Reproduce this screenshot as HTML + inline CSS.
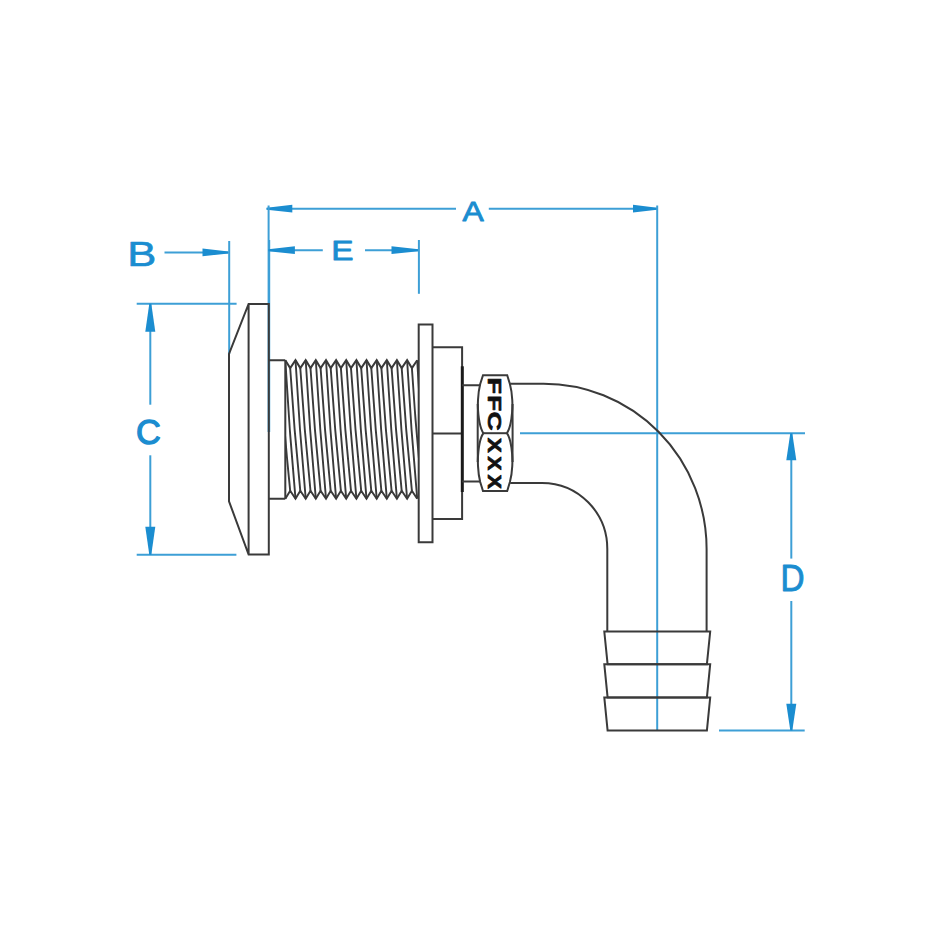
<!DOCTYPE html>
<html><head><meta charset="utf-8"><style>
html,body{margin:0;padding:0;background:#fff;}
svg{display:block;}
</style></head><body>
<svg width="940" height="940" viewBox="0 0 940 940">
<rect width="940" height="940" fill="#fff"/>
<g id="blue">
<line x1="266.4" y1="208.7" x2="456" y2="208.7" stroke="#3d9fd6" stroke-width="2.0"/>
<line x1="488.8" y1="208.7" x2="657" y2="208.7" stroke="#3d9fd6" stroke-width="2.0"/>
<path d="M266.8 207.7 L292.3 204.8 L292.3 212.6 L266.8 209.7 Z" fill="#1b8dd0"/>
<path d="M657 209.7 L633 212.6 L633 204.8 L657 207.7 Z" fill="#1b8dd0"/>
<line x1="268.6" y1="205.5" x2="268.6" y2="432" stroke="#3d9fd6" stroke-width="2.0"/>
<line x1="269.6" y1="240" x2="269.6" y2="432" stroke="#3d9fd6" stroke-width="1.2"/>
<line x1="657.2" y1="205.5" x2="657.2" y2="730.6" stroke="#3d9fd6" stroke-width="2.0"/>
<line x1="268.4" y1="250.2" x2="322.8" y2="250.2" stroke="#3d9fd6" stroke-width="2.0"/>
<line x1="365" y1="250.2" x2="418.5" y2="250.2" stroke="#3d9fd6" stroke-width="2.0"/>
<path d="M268.4 249.2 L294.9 246.3 L294.9 254.1 L268.4 251.2 Z" fill="#1b8dd0"/>
<path d="M418.5 251.2 L391.5 254.1 L391.5 246.3 L418.5 249.2 Z" fill="#1b8dd0"/>
<line x1="418.9" y1="240" x2="418.9" y2="293.8" stroke="#3d9fd6" stroke-width="2.0"/>
<line x1="164.5" y1="252.4" x2="228.5" y2="252.4" stroke="#3d9fd6" stroke-width="2.0"/>
<path d="M228.5 253.4 L202.5 256.3 L202.5 248.5 L228.5 251.4 Z" fill="#1b8dd0"/>
<line x1="229.2" y1="241" x2="229.2" y2="354" stroke="#3d9fd6" stroke-width="2.0"/>
<line x1="136.7" y1="303.7" x2="236.6" y2="303.7" stroke="#3d9fd6" stroke-width="2.0"/>
<line x1="136.7" y1="554.7" x2="236.4" y2="554.7" stroke="#3d9fd6" stroke-width="2.0"/>
<line x1="150.3" y1="303.7" x2="150.3" y2="404.7" stroke="#3d9fd6" stroke-width="2.0"/>
<line x1="150.3" y1="455.3" x2="150.3" y2="554.7" stroke="#3d9fd6" stroke-width="2.0"/>
<path d="M151.3 303.7 L155.3 331.7 L145.3 331.7 L149.3 303.7 Z" fill="#1b8dd0"/>
<path d="M149.3 554.7 L145.3 526.7 L155.3 526.7 L151.3 554.7 Z" fill="#1b8dd0"/>
<line x1="520" y1="433.3" x2="805" y2="433.3" stroke="#3d9fd6" stroke-width="2.0"/>
<line x1="719" y1="730.6" x2="804.7" y2="730.6" stroke="#3d9fd6" stroke-width="2.0"/>
<line x1="791.3" y1="433.3" x2="791.3" y2="558.6" stroke="#3d9fd6" stroke-width="2.0"/>
<line x1="791.3" y1="601" x2="791.3" y2="730.6" stroke="#3d9fd6" stroke-width="2.0"/>
<path d="M792.3 433.3 L796.3 460.3 L786.3 460.3 L790.3 433.3 Z" fill="#1b8dd0"/>
<path d="M790.3 730.6 L786.3 703.8 L796.3 703.8 L792.3 730.6 Z" fill="#1b8dd0"/>
</g>
<g id="black">
<path d="M248.6 304 L268.8 304 L268.8 554.5 L248.6 554.5 L229 501.3 L229 354 Z M248.6 304 L248.6 554.5" stroke="#3a3a3a" stroke-width="2.0" fill="none" stroke-linejoin="miter"/>
<path d="M268.8 360.2 L285.3 360.2 M268.8 498.7 L285.3 498.7 M285.3 360.2 L285.3 498.7" stroke="#3a3a3a" stroke-width="2.0" fill="none" stroke-linejoin="miter"/>
<path d="M285.3 360.2 L290.2 368.1 L295.5 360.2 L300.3 368.1 L305.7 360.2 L310.5 368.1 L315.8 360.2 L320.6 368.1 L326 360.2 L330.7 368.1 L336.1 360.2 L340.9 368.1 L346.2 360.2 L351 368.1 L356.4 360.2 L361.2 368.1 L366.5 360.2 L371.3 368.1 L376.7 360.2 L381.4 368.1 L386.8 360.2 L391.6 368.1 L396.9 360.2 L401.7 368.1 L407.1 360.2 L411.9 368.1 L417.2 360.2" stroke="#3a3a3a" stroke-width="2.0" fill="none" stroke-linejoin="miter"/>
<path d="M285.3 498.7 L290.2 490.8 L295.5 498.7 L300.3 490.8 L305.7 498.7 L310.5 490.8 L315.8 498.7 L320.6 490.8 L326 498.7 L330.7 490.8 L336.1 498.7 L340.9 490.8 L346.2 498.7 L351 490.8 L356.4 498.7 L361.2 490.8 L366.5 498.7 L371.3 490.8 L376.7 498.7 L381.4 490.8 L386.8 498.7 L391.6 490.8 L396.9 498.7 L401.7 490.8 L407.1 498.7 L411.9 490.8 L417.2 498.7" stroke="#3a3a3a" stroke-width="2.0" fill="none" stroke-linejoin="miter"/>
<clipPath id="thr"><rect x="285.3" y="358.2" width="133.39999999999998" height="142.5"/></clipPath>
<g clip-path="url(#thr)">
<path d="M275.2 360.2 Q279 429.4 285.3 498.7 M280 368.1 Q283.9 429.4 290.2 490.8 M285.3 360.2 Q289.2 429.4 295.5 498.7 M290.2 368.1 Q294 429.4 300.3 490.8 M295.5 360.2 Q299.4 429.4 305.7 498.7 M300.3 368.1 Q304.2 429.4 310.5 490.8 M305.7 360.2 Q309.5 429.4 315.8 498.7 M310.5 368.1 Q314.3 429.4 320.6 490.8 M315.8 360.2 Q319.7 429.4 326 498.7 M320.6 368.1 Q324.4 429.4 330.7 490.8 M326 360.2 Q329.8 429.4 336.1 498.7 M330.7 368.1 Q334.6 429.4 340.9 490.8 M336.1 360.2 Q340 429.4 346.2 498.7 M340.9 368.1 Q344.7 429.4 351 490.8 M346.2 360.2 Q350.1 429.4 356.4 498.7 M351 368.1 Q354.9 429.4 361.2 490.8 M356.4 360.2 Q360.2 429.4 366.5 498.7 M361.2 368.1 Q365 429.4 371.3 490.8 M366.5 360.2 Q370.4 429.4 376.7 498.7 M371.3 368.1 Q375.1 429.4 381.4 490.8 M376.7 360.2 Q380.5 429.4 386.8 498.7 M381.4 368.1 Q385.3 429.4 391.6 490.8 M386.8 360.2 Q390.7 429.4 396.9 498.7 M391.6 368.1 Q395.4 429.4 401.7 490.8 M396.9 360.2 Q400.8 429.4 407.1 498.7 M401.7 368.1 Q405.6 429.4 411.9 490.8 M407.1 360.2 Q410.9 429.4 417.2 498.7 M411.9 368.1 Q415.7 429.4 422 490.8 M417.2 360.2 Q421.1 429.4 427.4 498.7" stroke="#3a3a3a" stroke-width="1.9" fill="none" stroke-linejoin="miter"/>
</g>
<path d="M418.7 324.5 L432.5 324.5 L432.5 542.3 L418.7 542.3 Z" stroke="#3a3a3a" stroke-width="2.0" fill="none" stroke-linejoin="miter"/>
<path d="M432.5 347.3 L462.1 347.3 L462.1 518.9 L432.5 518.9 M432.5 433.4 L462.1 433.4" stroke="#3a3a3a" stroke-width="2.0" fill="none" stroke-linejoin="miter"/>
<path d="M462.3 366.3 L462.3 492" stroke="#1a1a1a" stroke-width="3.0" fill="none" stroke-linejoin="miter"/>
<path d="M462.1 385.3 L480.2 385.3 M462.1 481.6 L480.2 481.6" stroke="#3a3a3a" stroke-width="2.0" fill="none" stroke-linejoin="miter"/>
<path d="M483 375.2 L507.2 375.2 L509.9 384 C512.6 394 512.6 400 512.6 433 C512.6 466 512.6 472 509.9 482 L507.2 491 L483 491 L480.2 482 C477.7 472 477.7 466 477.7 433 C477.7 400 477.7 394 480.2 384 Z" stroke="#3a3a3a" stroke-width="2.0" fill="none" stroke-linejoin="miter"/>
<path d="M483.4 433.2 L506.9 433.2" stroke="#3a3a3a" stroke-width="2.0" fill="none" stroke-linejoin="miter"/>
<path d="M477.7 404 Q478.5 426 483.4 433.2 Q478.5 440 477.7 462" stroke="#3a3a3a" stroke-width="2.0" fill="none" stroke-linejoin="miter"/>
<path d="M512.6 404 Q511.8 426 506.9 433.2 Q511.8 440 512.6 462" stroke="#3a3a3a" stroke-width="2.0" fill="none" stroke-linejoin="miter"/>
<path d="M510.2 383.7 L543.4 383.7 A163 165.3 0 0 1 706.6 549 L706.6 631.6" stroke="#3a3a3a" stroke-width="2.0" fill="none" stroke-linejoin="miter"/>
<path d="M510.2 482.9 L542 482.9 A65.3 66 0 0 1 607.3 549 L607.3 631.6" stroke="#3a3a3a" stroke-width="2.0" fill="none" stroke-linejoin="miter"/>
<path d="M604.3 631.6 L710.2 631.6 L706.9 664.2 L607.6 664.2 Z" stroke="#3a3a3a" stroke-width="2.0" fill="none" stroke-linejoin="miter"/>
<path d="M604.3 664.2 L710.2 664.2 L706.9 697.4 L607.6 697.4 Z" stroke="#3a3a3a" stroke-width="2.0" fill="none" stroke-linejoin="miter"/>
<path d="M604.3 697.4 L710.2 697.4 L706.9 730.6 L607.6 730.6 Z" stroke="#3a3a3a" stroke-width="2.0" fill="none" stroke-linejoin="miter"/>
</g>
<g id="txt">
<text transform="matrix(0.3182 0 0 0.282 462.3878 220.85)" font-family="&quot;Liberation Sans&quot;, sans-serif" font-weight="normal" font-size="100" fill="#1b8dd0" stroke="#1b8dd0" stroke-width="2.999" stroke-linejoin="round">A</text>
<text transform="matrix(0.334 0 0 0.282 331.3105 260.45)" font-family="&quot;Liberation Sans&quot;, sans-serif" font-weight="normal" font-size="100" fill="#1b8dd0" stroke="#1b8dd0" stroke-width="2.9224" stroke-linejoin="round">E</text>
<text transform="matrix(0.4359 0 0 0.3561 127.1742 265.85)" font-family="&quot;Liberation Sans&quot;, sans-serif" font-weight="normal" font-size="100" fill="#1b8dd0" stroke="#1b8dd0" stroke-width="1.7676" stroke-linejoin="round">B</text>
<text transform="matrix(0.3442 0 0 0.3573 136.102 444.201)" font-family="&quot;Liberation Sans&quot;, sans-serif" font-weight="normal" font-size="100" fill="#1b8dd0" stroke="#1b8dd0" stroke-width="3.706" stroke-linejoin="round">C</text>
<text transform="matrix(0.3326 0 0 0.3663 780.5216 591.05)" font-family="&quot;Liberation Sans&quot;, sans-serif" font-weight="normal" font-size="100" fill="#1b8dd0" stroke="#1b8dd0" stroke-width="2.5755" stroke-linejoin="round">D</text>
<text transform="matrix(0 0.27 -0.186 0 488 377.5936)" font-family="&quot;Liberation Sans&quot;, sans-serif" font-weight="bold" font-size="100" fill="#111" stroke="#111" stroke-width="3.508" stroke-linejoin="round">F</text>
<text transform="matrix(0 0.2602 -0.186 0 488 395.1595)" font-family="&quot;Liberation Sans&quot;, sans-serif" font-weight="bold" font-size="100" fill="#111" stroke="#111" stroke-width="3.5855" stroke-linejoin="round">F</text>
<text transform="matrix(0 0.2615 -0.1808 0 488.1766 411.6273)" font-family="&quot;Liberation Sans&quot;, sans-serif" font-weight="bold" font-size="100" fill="#111" stroke="#111" stroke-width="3.6172" stroke-linejoin="round">C</text>
<text transform="matrix(0 0.2248 -0.1773 0 488 437.8024)" font-family="&quot;Liberation Sans&quot;, sans-serif" font-weight="bold" font-size="100" fill="#111" stroke="#111" stroke-width="3.9786" stroke-linejoin="round">X</text>
<text transform="matrix(0 0.2125 -0.1773 0 488 456.2132)" font-family="&quot;Liberation Sans&quot;, sans-serif" font-weight="bold" font-size="100" fill="#111" stroke="#111" stroke-width="4.1044" stroke-linejoin="round">X</text>
<text transform="matrix(0 0.2156 -0.1773 0 488 474.6105)" font-family="&quot;Liberation Sans&quot;, sans-serif" font-weight="bold" font-size="100" fill="#111" stroke="#111" stroke-width="4.0722" stroke-linejoin="round">X</text>
</g>
</svg>
</body></html>
